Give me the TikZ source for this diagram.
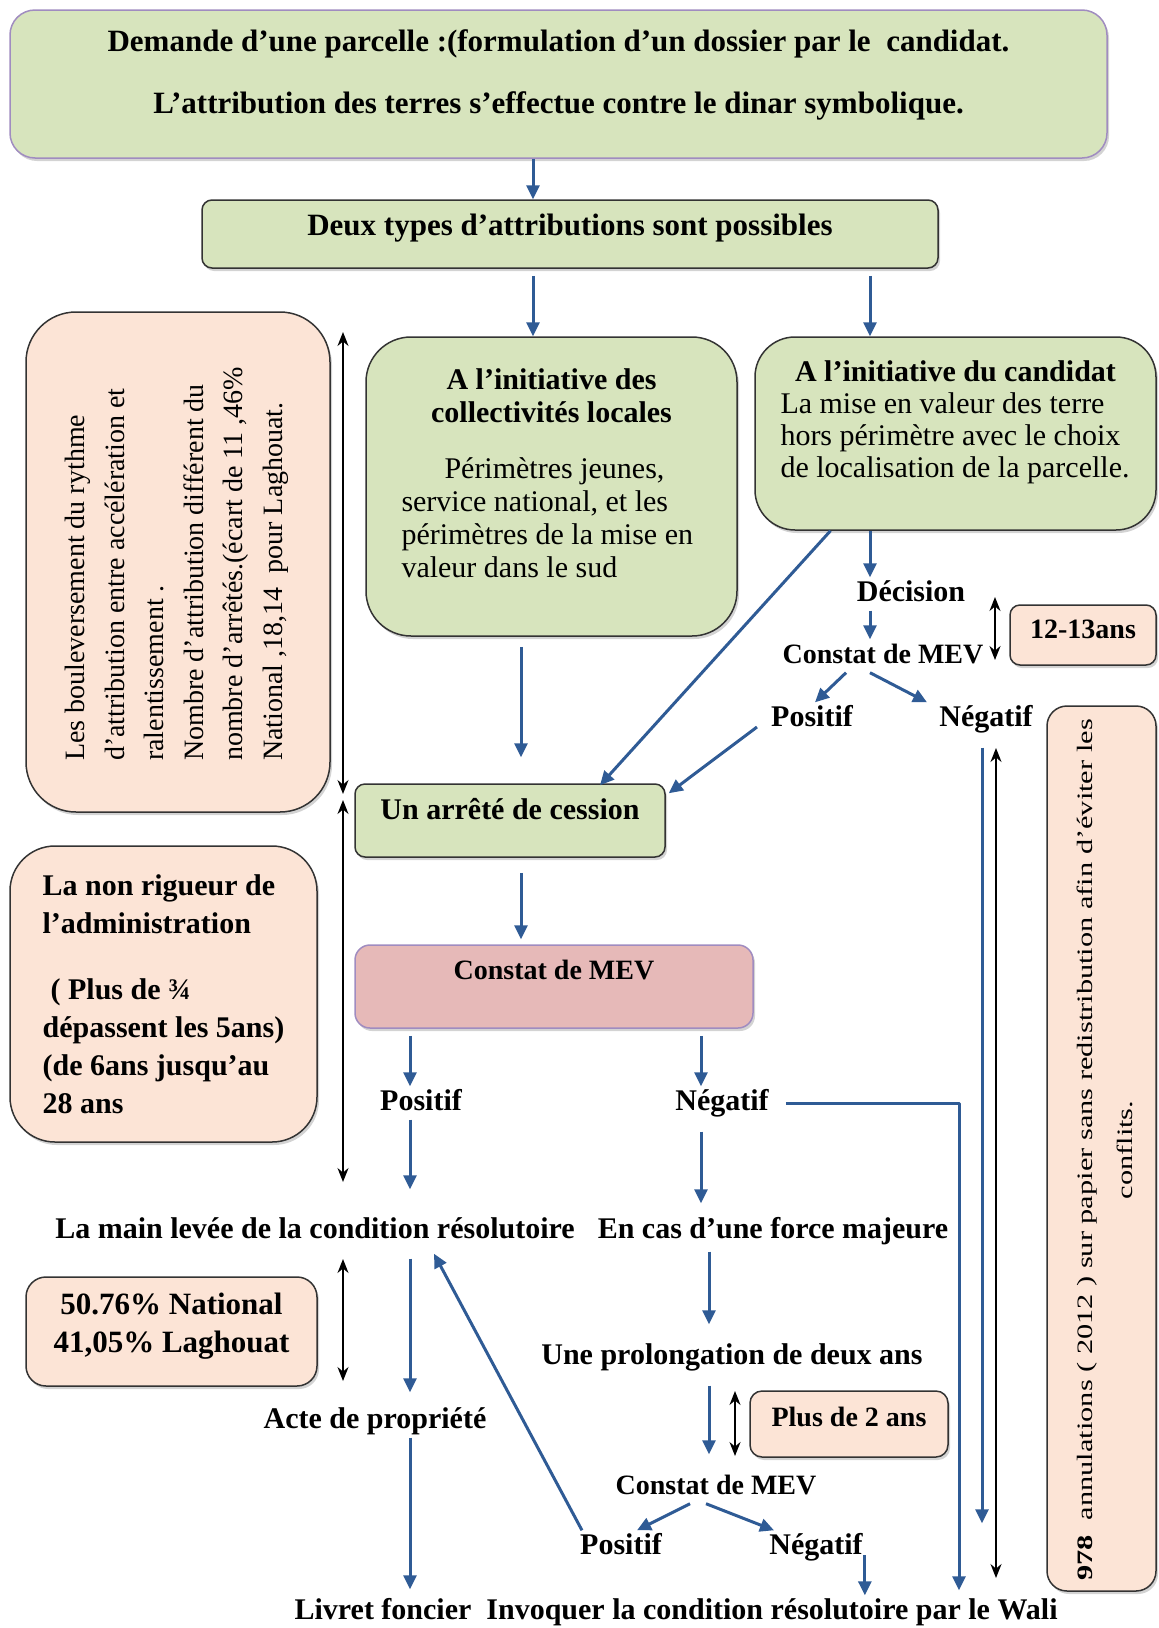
\documentclass[tikz,border=0pt]{standalone}
\usepackage{fontspec}
\setmainfont{Liberation Serif}
\usetikzlibrary{arrows.meta,shadows}
\definecolor{vert}{HTML}{D7E4BD}
\definecolor{peche}{HTML}{FCE4D6}
\definecolor{rose}{HTML}{E6B9B8}
\definecolor{bleu}{HTML}{2F5B95}
\definecolor{lilas}{HTML}{A08CC0}
\newcommand{\gras}{\bfseries\fontsize{30}{36}\selectfont}
\newcommand{\grasmev}{\bfseries\fontsize{28}{34}\selectfont}

\begin{document}
\begin{tikzpicture}[x=1pt,y=-1pt,line join=round,
	boite/.style={draw=black!80,line width=1.5pt,rounded corners=10pt,inner sep=0pt,
		drop shadow={shadow xshift=2pt,shadow yshift=-3pt,opacity=.35}},
	etiq/.style={font=\gras,inner sep=2pt,text height=22pt,text depth=7pt},
	flux/.style={draw=bleu,line width=3pt,-{Triangle[length=14pt,width=13pt]}},
	duree/.style={line width=1.5pt,{Stealth[length=14pt,width=11pt]}-{Stealth[length=14pt,width=11pt]}}]

	\useasboundingbox (0,0) rectangle (1159,1628);

	\node[boite,draw=lilas,fill=vert,rounded corners=25pt,minimum width=1097pt,minimum height=148pt,align=center,
		font=\bfseries\fontsize{31}{38}\selectfont,text depth=24pt] (demande) at (558.5,84)
		{Demande d’une parcelle :(formulation d’un dossier par le~ candidat.\\[24pt]L’attribution des terres s’effectue contre le dinar symbolique.};
	\node[boite,fill=vert,minimum width=736pt,minimum height=68pt,font=\bfseries\fontsize{31}{38}\selectfont,text depth=18pt] (deux) at (570,234)
		{Deux types d’attributions sont possibles};
	\node[boite,fill=vert,rounded corners=45pt,minimum width=371pt,minimum height=299pt,align=center,
		font=\fontsize{30}{33}\selectfont,text depth=26pt] (coll) at (551.5,486.5)
		{\textbf{A l’initiative des}\\\textbf{collectivités locales}\\[23pt]
		\makebox[300pt][l]{\hspace*{43pt}Périmètres jeunes,}\\
		\makebox[300pt][l]{service national, et les}\\
		\makebox[300pt][l]{périmètres de la mise en}\\
		\makebox[300pt][l]{valeur dans le sud}};
	\node[boite,fill=vert,rounded corners=40pt,minimum width=401pt,minimum height=193pt,align=center,
		font=\fontsize{30}{32}\selectfont,text depth=28pt] (cand) at (955.5,433.5)
		{\textbf{A l’initiative du candidat}\\
		\makebox[350pt][l]{La mise en valeur des terre}\\
		\makebox[350pt][l]{hors périmètre avec le choix}\\
		\makebox[350pt][l]{de localisation de la parcelle.}};

	\node[boite,fill=peche,rounded corners=50pt,minimum width=304pt,minimum height=500pt] (bilan) at (178,562) {};
	\node[rotate=90,anchor=west,align=left,inner sep=0pt,font=\fontsize{28}{39.5}\selectfont] (rythme) at (177,761)
		{Les bouleversement du rythme\\d’attribution entre accélération et\\ralentissement .\\Nombre d’attribution différent du\\nombre d’arrêtés.(écart de 11 ,46\%\\National ,18,14 \ pour Laghouat.};
	\node[boite,fill=peche,rounded corners=45pt,minimum width=307pt,minimum height=296pt,align=left,
		font=\bfseries\fontsize{30}{38}\selectfont] (rigueur) at (163.5,994)
		{La non rigueur de\\l’administration\\[28pt]\hspace*{8pt}( Plus de ¾\\dépassent les 5ans)\\(de 6ans jusqu’au\\28 ans};
	\node[boite,fill=peche,rounded corners=20pt,minimum width=291pt,minimum height=109pt,align=center,
		font=\bfseries\fontsize{31}{38}\selectfont,text depth=17pt] (taux) at (171.5,1331.5)
		{50.76\% National\\41,05\% Laghouat};

	\node[boite,fill=vert,minimum width=310pt,minimum height=73pt,font=\gras,text depth=23pt] (arrete) at (510,820.5) {Un arrêté de cession};
	\node[boite,draw=lilas,fill=rose,rounded corners=15pt,minimum width=398pt,minimum height=83pt,font=\grasmev,text depth=33pt] (mev) at (554,986.5) {Constat de MEV};
	\node[boite,fill=peche,minimum width=146pt,minimum height=60pt,font=\grasmev,text depth=12pt] (delai) at (1083,635) {12-13ans};
	\node[boite,fill=peche,rounded corners=12pt,minimum width=198pt,minimum height=66pt,font=\grasmev,text depth=14pt] (plusdeux) at (849,1424) {Plus de 2 ans};

	\node[boite,fill=peche,rounded corners=20pt,minimum width=109pt,minimum height=885pt] (annul) at (1101.5,1148.5) {};
	\node[rotate=90,align=center,inner sep=0pt,font=\fontsize{22}{40}\selectfont] (annultxt) at (1105,1150)
		{\scalebox{1.38}[1]{\textbf{978} \ annulations ( 2012 ) sur papier sans redistribution afin d’éviter les}\\\scalebox{1.38}[1]{conflits.}};

	\node[etiq] (decision) at (911,594) {Décision};
	\node[etiq,font=\grasmev] (constatA) at (883,656) {Constat de MEV};
	\node[etiq] (posA) at (812,719) {Positif};
	\node[etiq] (negA) at (986,719) {Négatif};
	\node[etiq] (posB) at (421,1103) {Positif};
	\node[etiq] (negB) at (722,1103) {Négatif};
	\node[etiq] (mainlevee) at (315,1231) {La main levée de la condition résolutoire};
	\node[etiq] (force) at (773,1231) {En cas d’une force majeure};
	\node[etiq] (prolong) at (732,1357) {Une prolongation de deux ans};
	\node[etiq] (acte) at (375,1421) {Acte de propriété};
	\node[etiq,font=\grasmev] (constatB) at (716,1487) {Constat de MEV};
	\node[etiq] (posC) at (621,1547) {Positif};
	\node[etiq] (negC) at (816,1547) {Négatif};
	\node[etiq] (livret) at (383,1612) {Livret foncier};
	\node[etiq] (invoquer) at (772,1612) {Invoquer la condition résolutoire par le Wali};

	\coordinate (xA) at (533,0);
	\coordinate (xB) at (870,0);
	\coordinate (xC) at (521,0);
	\coordinate (xD) at (410,0);
	\coordinate (xE) at (701,0);
	\coordinate (xF) at (709,0);
	\coordinate (xH) at (982,0);
	\coordinate (xI) at (959,0);

	\draw[flux] (demande.south -| xA) -- (deux.north -| xA);
	\draw[flux,shorten <=7pt] (deux.south -| xA) -- (coll.north -| xA);
	\draw[flux,shorten <=7pt] (deux.south -| xB) -- (cand.north -| xB);
	\draw[flux,shorten <=10pt,shorten >=26pt] (coll.south -| xC) -- (arrete.north -| xC);
	\draw[flux] ([xshift=-125pt]cand.south) -- ([xshift=90pt,yshift=-2pt]arrete.north);
	\draw[flux] (cand.south -| xB) -- (decision.north -| xB);
	\draw[flux] (decision.south -| xB) -- (constatA.north -| xB);
	\draw[flux] ([xshift=-37pt]constatA.south) -- ([xshift=3pt]posA.north);
	\draw[flux] ([xshift=-13pt]constatA.south) -- ([xshift=-59pt]negA.north);
	\draw[flux] ([xshift=-12pt,yshift=-8pt]posA.west) -- ([xshift=3pt,yshift=-10pt]arrete.north east);
	\draw[flux,shorten <=12pt,shorten >=72pt] (negA.south -| xH) -- (invoquer.north -| xH);
	\draw[flux,shorten <=15pt,shorten >=5pt] (arrete.south -| xC) -- (mev.north -| xC);
	\draw[flux,shorten <=7pt] (mev.south -| xD) -- (posB.north -| xD);
	\draw[flux,shorten <=7pt] (mev.south -| xE) -- (negB.north -| xE);
	\draw[flux,shorten >=25pt] (posB.south -| xD) -- (mainlevee.north -| xD);
	\draw[flux,shorten <=12pt,shorten >=11pt] (negB.south -| xE) -- (force.north -| xE);
	\draw[flux,shorten <=15pt,shorten >=5pt] (negB.east) -| (invoquer.north -| xI);
	\draw[flux,shorten <=11pt,shorten >=12pt] (mainlevee.south -| xD) -- (acte.north -| xD);
	\draw[flux,shorten >=6pt] (acte.south -| xD) -- (livret.north -| xD);
	\draw[flux,shorten <=4pt,shorten >=16pt] (force.south -| xF) -- (prolong.north -| xF);
	\draw[flux,shorten <=12pt,shorten >=16pt] (prolong.south -| xF) -- (constatB.north -| xF);
	\draw[flux] ([xshift=-26pt]constatB.south) -- ([xshift=16pt]posC.north);
	\draw[flux] ([xshift=-10pt]constatB.south) -- ([xshift=-42pt]negC.north);
	\draw[flux] ([xshift=4pt]posC.north west) -- ([xshift=119pt,yshift=-6pt]mainlevee.south);
	\draw[flux] ([yshift=-8pt]negC.east) -- (negC.east |- invoquer.north);

	\coordinate (d1) at (343,332);
	\coordinate (d2) at (343,794);
	\coordinate (d3) at (343,800);
	\coordinate (d4) at (343,1182);
	\coordinate (d5) at (343,1259);
	\coordinate (d6) at (343,1381);
	\coordinate (d7) at (995,597);
	\coordinate (d8) at (995,660);
	\coordinate (d9) at (996,748);
	\coordinate (d10) at (996,1578);
	\coordinate (d11) at (735,1391);
	\coordinate (d12) at (735,1456);
	\draw[duree] (d1) -- (d2);
	\draw[duree] (d3) -- (d4);
	\draw[duree] (d5) -- (d6);
	\draw[duree] (d7) -- (d8);
	\draw[duree] (d9) -- (d10);
	\draw[duree] (d11) -- (d12);
\end{tikzpicture}
\end{document}
